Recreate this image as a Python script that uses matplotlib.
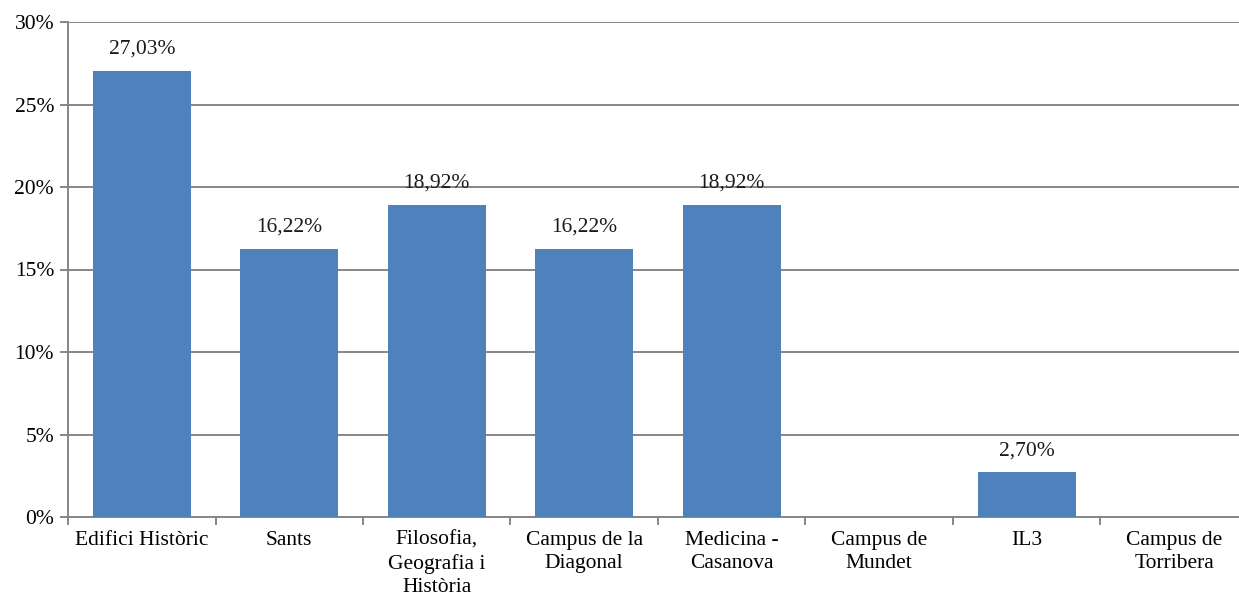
import numpy as np
import matplotlib.pyplot as plt
from matplotlib.ticker import FuncFormatter, FixedLocator

plt.rcParams['font.family'] = ['Liberation Serif', 'DejaVu Serif']

categories = ['Edifici Històric', 'Sants', 'Filosofia,\nGeografia i\nHistòria',
              'Campus de la\nDiagonal', 'Medicina -\nCasanova', 'Campus de\nMundet',
              'IL3', 'Campus de\nTorribera']
values = [27.03, 16.22, 18.92, 16.22, 18.92, 0.0, 2.70, 0.0]

fig = plt.figure(figsize=(12.39, 5.99), dpi=100)
ax = fig.add_axes([68 / 1239, 1 - 517 / 599, 1180 / 1239, 495 / 599])

x = np.arange(len(categories))
ax.bar(x, values, width=0.665, color='#4F81BD', zorder=3)

for xi, v in zip(x, values):
    if v > 0:
        ax.text(xi, v + 0.75, f'{v:.2f}%'.replace('.', ','), ha='center', va='bottom',
                fontsize=15.5, color='#1a1a1a')

ax.set_xlim(-0.5, len(categories) - 0.5)
ax.set_ylim(0, 30)
ax.set_yticks(np.arange(0, 31, 5))
ax.yaxis.set_major_formatter(FuncFormatter(lambda v, p: f'{int(v)}%'))
ax.grid(axis='y', color='#868686', linewidth=1.4, zorder=0)

ax.set_xticks(x)
ax.set_xticklabels(categories, fontsize=15.5, linespacing=1.3)
ax.xaxis.set_minor_locator(FixedLocator(np.arange(-0.5, len(categories), 1)))
ax.tick_params(axis='x', which='major', length=0, pad=10)
ax.tick_params(axis='x', which='minor', length=6, width=1.4, color='#868686')
ax.tick_params(axis='y', length=6, width=1.4, color='#868686', labelsize=15.5, pad=4)

for s in ['top', 'right']:
    ax.spines[s].set_visible(False)
for s in ['left', 'bottom']:
    ax.spines[s].set_color('#868686')
    ax.spines[s].set_linewidth(1.4)

fig.savefig('out.png', dpi=100)
